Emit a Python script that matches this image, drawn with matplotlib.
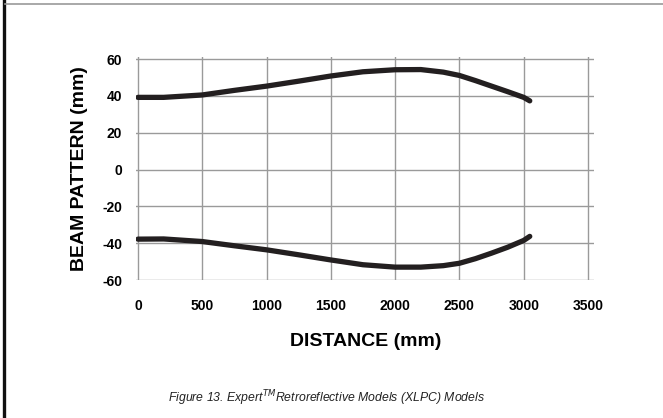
import matplotlib.pyplot as plt
from matplotlib.lines import Line2D

plt.rcParams['axes.unicode_minus'] = False

# beam pattern readings, distance in mm
distance = [0, 200, 500, 750, 1000, 1250, 1500, 1750, 2000, 2200, 2375, 2500, 2625, 2750, 2875, 3000, 3047]
upper = [39.2, 39.2, 40.5, 43.0, 45.3, 48.0, 50.8, 53.1, 54.2, 54.3, 52.9, 51.1, 48.3, 45.3, 42.3, 39.2, 37.3]
lower = [-37.8, -37.7, -39.1, -41.4, -43.6, -46.3, -49.1, -51.7, -53.0, -53.0, -52.2, -50.9, -48.4, -45.4, -42.2, -38.5, -36.3]

x_ticks = [0, 500, 1000, 1500, 2000, 2500, 3000, 3500]
y_ticks = [-60, -40, -20, 0, 20, 40, 60]

font = 'Liberation Sans'

fig = plt.figure(figsize=(6.63, 4.18), dpi=100)
ax = fig.add_axes([0.2051, 0.3301, 0.6915, 0.533])

ax.plot(distance, upper, color='#231f20', lw=3.8, solid_capstyle='round', solid_joinstyle='round')
ax.plot(distance, lower, color='#231f20', lw=3.8, solid_capstyle='round', solid_joinstyle='round')

ax.set_xlim(-15, 3550)
ax.set_ylim(-60, 61)
ax.set_xticks(x_ticks)
ax.set_yticks(y_ticks)
ax.grid(True, color='#9a9a9a', lw=1.0)
ax.set_axisbelow(True)
for s in ax.spines.values():
    s.set_visible(False)
ax.tick_params(axis='y', length=0, pad=10)
ax.tick_params(axis='x', length=0, pad=14)
for lbl in ax.get_xticklabels() + ax.get_yticklabels():
    lbl.set_fontfamily(font)
    lbl.set_fontweight('bold')
    lbl.set_fontsize(10)

ax.set_xlabel('DISTANCE (mm)', fontfamily=font, fontweight='bold', fontsize=14, labelpad=14)
ax.set_ylabel('BEAM PATTERN (mm)', fontfamily=font, fontweight='bold', fontsize=14, labelpad=10)

fig.text(0.493, 0.048, r'Figure 13. Expert$^{\mathit{TM}}$Retroreflective Models (XLPC) Models',
         ha='center', va='center', fontsize=8.8, style='italic', color='#222222',
         fontfamily=font)

# page frame: thick rule on the left, thin grey rule across the top
fig.add_artist(Line2D([0.0065, 0.0065], [0, 1], transform=fig.transFigure, color='#111111', lw=2.4))
fig.add_artist(Line2D([0.008, 1], [0.99, 0.99], transform=fig.transFigure, color='#999999', lw=1.2))

fig.savefig('out.png', dpi=100)
